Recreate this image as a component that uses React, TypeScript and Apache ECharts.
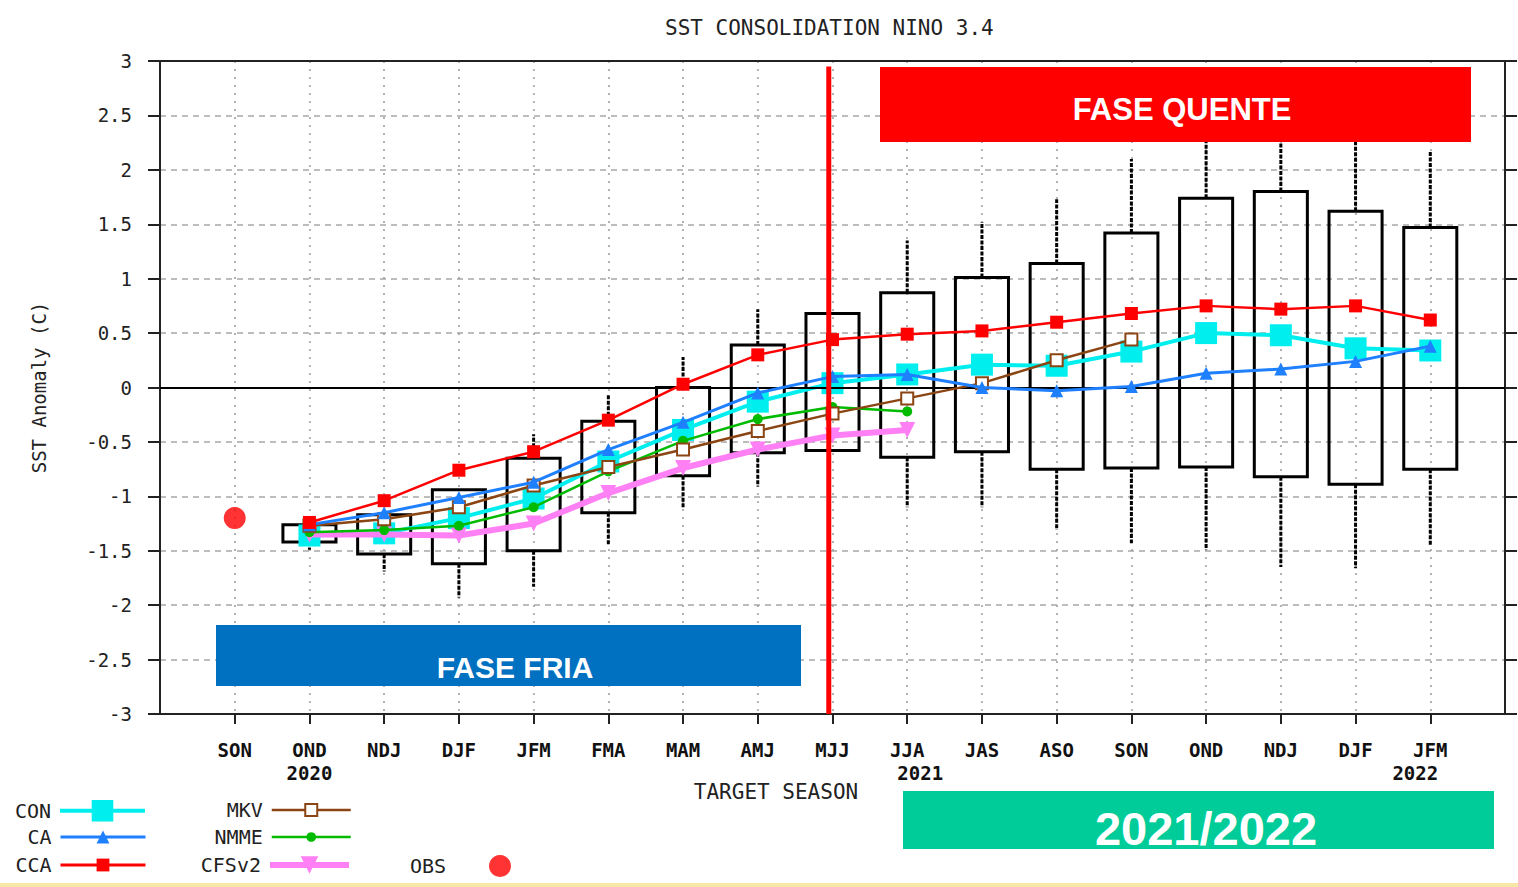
import { useEffect, useRef } from "react";
import * as echarts from "echarts";

const seasons = ["SON", "OND", "NDJ", "DJF", "JFM", "FMA", "MAM", "AMJ", "MJJ", "JJA", "JAS", "ASO", "SON", "OND", "NDJ", "DJF", "JFM"];
const yearLabelIdx = [1, 9, 16];
const yearLabels = ["2020", "2021", "2022"];

// box plot (spread of models): whisker low, box low, box high, whisker high
const boxWhiskerLow = [null, -1.49, -1.69, -1.93, -1.83, -1.45, -1.11, -0.91, -0.58, -1.10, -1.10, -1.31, -1.43, -1.49, -1.65, -1.66, -1.45];
const boxLow = [null, -1.42, -1.53, -1.62, -1.50, -1.15, -0.81, -0.60, -0.58, -0.64, -0.59, -0.75, -0.74, -0.73, -0.82, -0.89, -0.75];
const boxHigh = [null, -1.26, -1.17, -0.94, -0.65, -0.31, 0.0, 0.39, 0.68, 0.87, 1.01, 1.14, 1.42, 1.74, 1.80, 1.62, 1.47];
const boxWhiskerHigh = [null, -1.26, -1.17, -0.94, -0.43, -0.07, 0.28, 0.72, 0.68, 1.35, 1.52, 1.73, 2.10, 2.6, 2.6, 2.6, 2.17];

const conValues = [null, -1.36, -1.34, -1.20, -1.02, -0.68, -0.39, -0.13, 0.04, 0.12, 0.21, 0.20, 0.33, 0.50, 0.48, 0.36, 0.34];
const caValues = [null, -1.26, -1.15, -1.01, -0.87, -0.57, -0.32, -0.05, 0.10, 0.12, 0.0, -0.03, 0.01, 0.13, 0.17, 0.24, 0.38];
const ccaValues = [null, -1.24, -1.04, -0.76, -0.59, -0.30, 0.03, 0.30, 0.44, 0.49, 0.52, 0.60, 0.68, 0.75, 0.72, 0.75, 0.62];
const mkvValues = [null, -1.27, -1.21, -1.10, -0.90, -0.73, -0.57, -0.40, -0.24, -0.10, 0.04, 0.25, 0.44, null, null, null, null];
const nmmeValues = [null, -1.33, -1.31, -1.27, -1.10, -0.77, -0.49, -0.29, -0.18, -0.22, null, null, null, null, null, null, null];
const cfsValues = [null, -1.35, -1.35, -1.36, -1.25, -0.97, -0.74, -0.57, -0.44, -0.39, null, null, null, null, null, null, null];
const obsValues = [-1.20, null, null, null, null, null, null, null, null, null, null, null, null, null, null, null, null];

const dividerX = 7.95; // red vertical line just before MJJ

const MONO = "'DejaVu Sans Mono', monospace";
const SANS = "'Liberation Sans', Arial, sans-serif";

function toPairs(vals: (number | null)[]) {
  const out: [number, number][] = [];
  vals.forEach((v, i) => {
    if (v !== null) out.push([i, v]);
  });
  return out;
}

export default function App() {
  const ref = useRef<HTMLDivElement>(null);

  useEffect(() => {
    if (!ref.current) return;
    const chart = echarts.init(ref.current, null, { renderer: "svg" });

    const boxData: number[][] = [];
    seasons.forEach((_, i) => {
      if (boxLow[i] !== null) {
        boxData.push([i, boxWhiskerLow[i] as number, boxLow[i] as number, boxHigh[i] as number, boxWhiskerHigh[i] as number]);
      }
    });

    const tickIdx = seasons.map((_, i) => i);

    const legendBase = {
      orient: "horizontal",
      align: "right",
      padding: 0,
      selectedMode: false,
      textStyle: { fontFamily: MONO, fontSize: 20, color: "#222", padding: [0, 4, 0, 0] },
    };

    const option: any = {
      animation: false,
      backgroundColor: "#fff",
      title: {
        text: "SST CONSOLIDATION NINO 3.4",
        left: 660,
        top: 12,
        textStyle: { fontFamily: MONO, fontSize: 21, fontWeight: "normal", color: "#222" },
      },
      grid: {
        left: 160,
        right: 13,
        top: 61,
        bottom: 173,
        show: false,
      },
      xAxis: [
        {
          type: "value",
          min: -1,
          max: 17,
          interval: 1,
          axisLine: { show: true, onZero: false, lineStyle: { color: "#222", width: 2 } },
          axisTick: { show: true, length: 10, inside: false, customValues: tickIdx, lineStyle: { color: "#222", width: 2 } },
          axisLabel: {
            margin: 24,
            customValues: tickIdx,
            formatter: (v: number) => {
              const i = Math.round(v);
              if (i < 0 || i >= seasons.length) return "";
              const k = yearLabelIdx.indexOf(i);
              if (k < 0) return "{s|" + seasons[i] + "}";
              return "{s|" + seasons[i] + "}\n{y" + k + "|" + yearLabels[k] + "}";
            },
            rich: {
              s: { fontFamily: MONO, fontSize: 19, fontWeight: "bold", color: "#111", lineHeight: 23 },
              y0: { fontFamily: MONO, fontSize: 19, fontWeight: "bold", color: "#111", lineHeight: 23 },
              y1: { fontFamily: MONO, fontSize: 19, fontWeight: "bold", color: "#111", lineHeight: 23, padding: [0, 0, 0, 26] },
              y2: { fontFamily: MONO, fontSize: 19, fontWeight: "bold", color: "#111", lineHeight: 23, padding: [0, 30, 0, 0] },
            },
          },
          splitLine: { show: true, lineStyle: { color: "#9a9a9a", width: 1.5, type: [2, 6] } },
        },
        {
          type: "value",
          min: -1,
          max: 17,
          interval: 1,
          position: "top",
          axisLine: { show: true, onZero: false, lineStyle: { color: "#222", width: 2 } },
          axisTick: { show: false },
          axisLabel: { show: false },
          splitLine: { show: false },
        },
      ],
      yAxis: [
        {
          type: "value",
          min: -3,
          max: 3,
          interval: 0.5,
          name: "SST Anomaly (C)",
          nameLocation: "middle",
          nameGap: 112,
          nameRotate: 90,
          nameTextStyle: { fontFamily: MONO, fontSize: 19, color: "#222" },
          axisLine: { show: true, onZero: false, lineStyle: { color: "#222", width: 2 } },
          axisTick: { show: true, length: 12, lineStyle: { color: "#222", width: 2 } },
          axisLabel: { margin: 28, fontFamily: MONO, fontSize: 19, color: "#222" },
          splitLine: { show: true, lineStyle: { color: "#a8a8a8", width: 1.5, type: [6, 5] } },
        },
        {
          type: "value",
          min: -3,
          max: 3,
          interval: 0.5,
          position: "right",
          axisLine: { show: true, onZero: false, lineStyle: { color: "#222", width: 2 } },
          axisTick: { show: true, length: 12, lineStyle: { color: "#222", width: 2 } },
          axisLabel: { show: false },
          splitLine: { show: false },
        },
      ],
      legend: [
        { ...legendBase, data: ["CON"], right: 1371, top: 800, itemWidth: 85, itemHeight: 27, lineStyle: { width: 4 } },
        { ...legendBase, data: ["CA"], right: 1371, top: 827, itemWidth: 85, itemHeight: 16, lineStyle: { width: 3 } },
        { ...legendBase, data: ["CCA"], right: 1371, top: 855, itemWidth: 85, itemHeight: 16, lineStyle: { width: 3 } },
        { ...legendBase, data: ["MKV"], right: 1166, top: 800, itemWidth: 79, itemHeight: 15, lineStyle: { width: 2.5 } },
        { ...legendBase, data: ["NMME"], right: 1166, top: 827, itemWidth: 79, itemHeight: 12, lineStyle: { width: 2.5 } },
        { ...legendBase, data: ["CFSv2"], right: 1166, top: 855, itemWidth: 79, itemHeight: 22, lineStyle: { width: 6 } },
        {
          ...legendBase,
          data: ["OBS"],
          right: 1007,
          top: 855,
          itemWidth: 22,
          itemHeight: 22,
          textStyle: { fontFamily: MONO, fontSize: 20, color: "#222", padding: [0, 38, 0, 0] },
        },
      ],
      series: [
        {
          name: "spread",
          type: "custom",
          z: 2,
          encode: { x: 0, y: [1, 2, 3, 4] },
          data: boxData,
          renderItem: (_params: any, api: any) => {
            const x = api.value(0);
            const pLo = api.coord([x, api.value(1)]);
            const pQ1 = api.coord([x, api.value(2)]);
            const pQ3 = api.coord([x, api.value(3)]);
            const pHi = api.coord([x, api.value(4)]);
            const w = api.size([1, 0])[0] * 0.71;
            return {
              type: "group",
              children: [
                {
                  type: "line",
                  shape: { x1: pQ3[0], y1: pQ3[1], x2: pHi[0], y2: pHi[1] },
                  style: { stroke: "#000", lineWidth: 3, lineDash: [4, 1.5] },
                },
                {
                  type: "line",
                  shape: { x1: pQ1[0], y1: pQ1[1], x2: pLo[0], y2: pLo[1] },
                  style: { stroke: "#000", lineWidth: 3, lineDash: [4, 1.5] },
                },
                {
                  type: "rect",
                  shape: { x: pQ3[0] - w / 2, y: pQ3[1], width: w, height: pQ1[1] - pQ3[1] },
                  style: { fill: "none", stroke: "#000", lineWidth: 3 },
                },
              ],
            };
          },
          markLine: {
            silent: true,
            symbol: "none",
            label: { show: false },
            lineStyle: { color: "#000", width: 2, type: "solid" },
            data: [{ yAxis: 0 }],
          },
        },
        {
          name: "CON",
          type: "line",
          z: 3,
          data: toPairs(conValues),
          color: "#00EEEE",
          lineStyle: { width: 4, color: "#00EEEE" },
          symbol: "rect",
          symbolSize: 22,
          itemStyle: { color: "#00EEEE" },
        },
        {
          name: "CFSv2",
          type: "line",
          z: 4,
          data: toPairs(cfsValues),
          color: "#FF80F4",
          lineStyle: { width: 6, color: "#FF80F4" },
          symbol: "triangle",
          symbolRotate: 180,
          symbolSize: 16,
          itemStyle: { color: "#FF80F4" },
        },
        {
          name: "NMME",
          type: "line",
          z: 5,
          data: toPairs(nmmeValues),
          color: "#00BB00",
          lineStyle: { width: 2.5, color: "#00BB00" },
          symbol: "circle",
          symbolSize: 10,
          itemStyle: { color: "#00BB00" },
        },
        {
          name: "MKV",
          type: "line",
          z: 6,
          data: toPairs(mkvValues),
          color: "#8B4513",
          lineStyle: { width: 2.5, color: "#8B4513" },
          symbol: "emptyRect",
          symbolSize: 12,
          itemStyle: { color: "#8B4513", borderColor: "#8B4513", borderWidth: 2 },
        },
        {
          name: "CA",
          type: "line",
          z: 7,
          data: toPairs(caValues),
          color: "#1E7FFF",
          lineStyle: { width: 3, color: "#1E7FFF" },
          symbol: "triangle",
          symbolSize: 13,
          itemStyle: { color: "#1E7FFF" },
        },
        {
          name: "CCA",
          type: "line",
          z: 8,
          data: toPairs(ccaValues),
          color: "#FF0000",
          lineStyle: { width: 2.5, color: "#FF0000" },
          symbol: "rect",
          symbolSize: 13,
          itemStyle: { color: "#FF0000" },
        },
        {
          name: "OBS",
          type: "scatter",
          z: 8,
          data: toPairs(obsValues),
          color: "#FF0000",
          symbol: "circle",
          symbolSize: 22,
          itemStyle: { color: "#FF0000" },
        },
        {
          name: "divider",
          type: "line",
          z: 9,
          silent: true,
          data: [
            [dividerX, -3],
            [dividerX, 2.95],
          ],
          symbol: "none",
          lineStyle: { width: 5, color: "#FF0000" },
        },
      ],
      graphic: [
        {
          type: "rect",
          z: 100,
          shape: { x: 880, y: 67, width: 591, height: 75 },
          style: { fill: "#FF0000" },
        },
        {
          type: "text",
          z: 101,
          x: 1182,
          y: 109,
          style: {
            text: "FASE QUENTE",
            fill: "#fff",
            font: "bold 31px " + SANS,
            textAlign: "center",
            textVerticalAlign: "middle",
          },
        },
        {
          type: "rect",
          z: 100,
          shape: { x: 216, y: 625, width: 585, height: 61 },
          style: { fill: "#0070C0" },
        },
        {
          type: "text",
          z: 101,
          x: 515,
          y: 667,
          style: {
            text: "FASE FRIA",
            fill: "#fff",
            font: "bold 30px " + SANS,
            textAlign: "center",
            textVerticalAlign: "middle",
          },
        },
        {
          type: "rect",
          z: 100,
          shape: { x: 903, y: 791, width: 591, height: 58 },
          style: { fill: "#00CC99" },
        },
        {
          type: "text",
          z: 101,
          x: 1206,
          y: 828,
          style: {
            text: "2021/2022",
            fill: "#fff",
            font: "bold 47px " + SANS,
            textAlign: "center",
            textVerticalAlign: "middle",
          },
        },
        {
          type: "text",
          z: 101,
          x: 776,
          y: 792,
          style: {
            text: "TARGET SEASON",
            fill: "#222",
            font: "21px " + MONO,
            textAlign: "center",
            textVerticalAlign: "middle",
          },
        },
        {
          type: "rect",
          z: 100,
          shape: { x: 0, y: 883, width: 1518, height: 4 },
          style: { fill: "#F7E7A6" },
        },
      ],
    };

    chart.setOption(option);
    return () => chart.dispose();
  }, []);

  return <div ref={ref} style={{ position: "fixed", left: 0, top: 0, width: 1518, height: 887 }} />;
}
